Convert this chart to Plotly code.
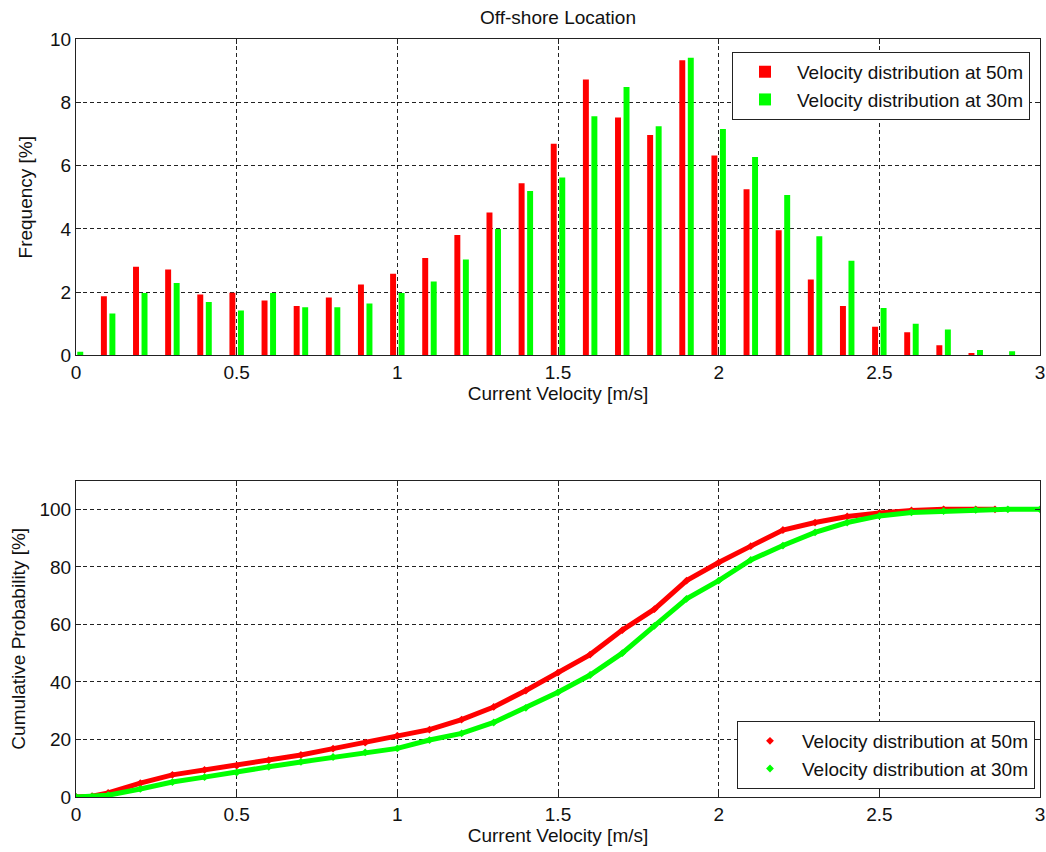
import plotly.graph_objects as go
from plotly.subplots import make_subplots

# Histogram bins (bin centres, m/s)
bin_centres = [round(0.1 * i, 1) for i in range(30)]
freq_50m = [0.0, 1.87, 2.80, 2.72, 1.93, 1.98, 1.74, 1.56, 1.83, 2.24,
            2.58, 3.08, 3.81, 4.52, 5.44, 6.69, 8.72, 7.52, 6.97, 9.33,
            6.32, 5.25, 3.96, 2.40, 1.56, 0.91, 0.73, 0.32, 0.08, 0.0]
freq_30m = [0.12, 1.33, 1.97, 2.29, 1.69, 1.42, 1.97, 1.52, 1.52, 1.64,
            1.97, 2.34, 3.03, 4.00, 5.20, 5.62, 7.56, 8.48, 7.24, 9.41,
            7.16, 6.27, 5.07, 3.77, 2.99, 1.50, 1.00, 0.82, 0.17, 0.13]

# Cumulative distributions
cdf_x_50m = [0, 0.05, 0.1, 0.2, 0.3, 0.4, 0.5, 0.6, 0.7, 0.8, 0.9, 1.0,
             1.1, 1.2, 1.3, 1.4, 1.5, 1.6, 1.7, 1.8, 1.9, 2.0, 2.1, 2.2,
             2.3, 2.4, 2.5, 2.6, 2.7, 2.8, 2.86]
cdf_50m = [0, 0.3, 1.4, 4.8, 7.7, 9.4, 10.9, 12.8, 14.6, 16.8, 18.9, 21.3,
           23.4, 26.9, 31.3, 37.0, 43.2, 49.5, 58.0, 65.3, 75.2, 81.5, 87.2, 92.8,
           95.4, 97.5, 98.7, 99.6, 100, 100, 100]
cdf_x_30m = [0, 0.05, 0.1, 0.2, 0.3, 0.4, 0.5, 0.6, 0.7, 0.8, 0.9, 1.0,
             1.1, 1.2, 1.3, 1.4, 1.5, 1.6, 1.7, 1.8, 1.9, 2.0, 2.1, 2.2,
             2.3, 2.4, 2.5, 2.6, 2.7, 2.8, 2.9, 3.0]
cdf_30m = [0, 0.1, 0.6, 2.8, 5.2, 6.9, 8.5, 10.5, 12.2, 13.9, 15.5, 16.9,
           19.8, 22.1, 25.9, 31.0, 36.4, 42.4, 50.0, 59.5, 68.9, 75.2, 82.4, 87.4,
           92.0, 95.4, 97.7, 98.9, 99.4, 99.8, 100, 100]

x_ticks = [0, 0.5, 1, 1.5, 2, 2.5, 3]
label_50m = "Velocity distribution at 50m"
label_30m = "Velocity distribution at 30m"

RED = "#ff0000"
GREEN = "#00ff00"
FONT = "Liberation Sans, Arial, sans-serif"
FS = 19

fig = make_subplots(rows=2, cols=1, vertical_spacing=0.165)

fig.add_trace(go.Bar(x=bin_centres, y=freq_50m, name=label_50m,
                     marker=dict(color=RED, line=dict(width=0)), legend="legend"),
              row=1, col=1)
fig.add_trace(go.Bar(x=bin_centres, y=freq_30m, name=label_30m,
                     marker=dict(color=GREEN, line=dict(width=0)), legend="legend"),
              row=1, col=1)

for xs, ys, col, name in [(cdf_x_50m, cdf_50m, RED, label_50m),
                          (cdf_x_30m, cdf_30m, GREEN, label_30m)]:
    fig.add_trace(go.Scatter(x=xs, y=ys, mode="lines", line=dict(color=col, width=5),
                             showlegend=False, hoverinfo="skip"),
                  row=2, col=1)
    fig.add_trace(go.Scatter(x=xs, y=ys, mode="markers", name=name,
                             marker=dict(color=col, size=6, symbol="diamond"),
                             legend="legend2"),
                  row=2, col=1)

axis_common = dict(
    showline=True, linecolor="#222", linewidth=1, mirror="ticks",
    ticks="inside", ticklen=5, tickcolor="#222",
    showgrid=True, gridcolor="#222", gridwidth=1, griddash="4px,3px",
    zeroline=False, tickfont=dict(size=FS, color="#111", family=FONT),
    automargin=False,
)

title_font = dict(size=FS, color="#111", family=FONT)
fig.update_xaxes(range=[0, 3], tickvals=x_ticks, ticklabeloverflow="allow", **axis_common)
fig.update_xaxes(title=dict(text="Current Velocity [m/s]", standoff=4, font=title_font), row=1, col=1)
fig.update_xaxes(title=dict(text="Current Velocity [m/s]", standoff=4, font=title_font), row=2, col=1)
fig.update_yaxes(range=[0, 10], tickvals=[0, 2, 4, 6, 8, 10], **axis_common, row=1, col=1)
fig.update_yaxes(range=[0, 110], tickvals=[0, 20, 40, 60, 80, 100], **axis_common, row=2, col=1)
fig.update_yaxes(title=dict(text="Frequency [%]", standoff=12, font=title_font), row=1, col=1)
fig.update_yaxes(title=dict(text="Cumulative Probability [%]", standoff=8, font=title_font), row=2, col=1)

legend_style = dict(bgcolor="white", bordercolor="#222", borderwidth=1,
                    font=dict(size=FS, color="#111", family=FONT),
                    tracegroupgap=0, itemwidth=54)

fig.update_layout(
    width=1046, height=852,
    margin=dict(l=76, r=6, t=39, b=55),
    paper_bgcolor="white", plot_bgcolor="white",
    font=dict(family=FONT, color="#111"),
    barmode="group", bargap=0.47, bargroupgap=0.3,
    legend=dict(x=0.9896, y=0.983, xanchor="right", yanchor="top", **legend_style),
    legend2=dict(x=0.9948, y=0.0106, xanchor="right", yanchor="bottom", **legend_style),
    annotations=[dict(text="Off-shore Location", x=0.5, y=1, xref="paper", yref="paper",
                      xanchor="center", yanchor="bottom", yshift=9, showarrow=False,
                      font=title_font)],
)

fig.write_html("out.html")
